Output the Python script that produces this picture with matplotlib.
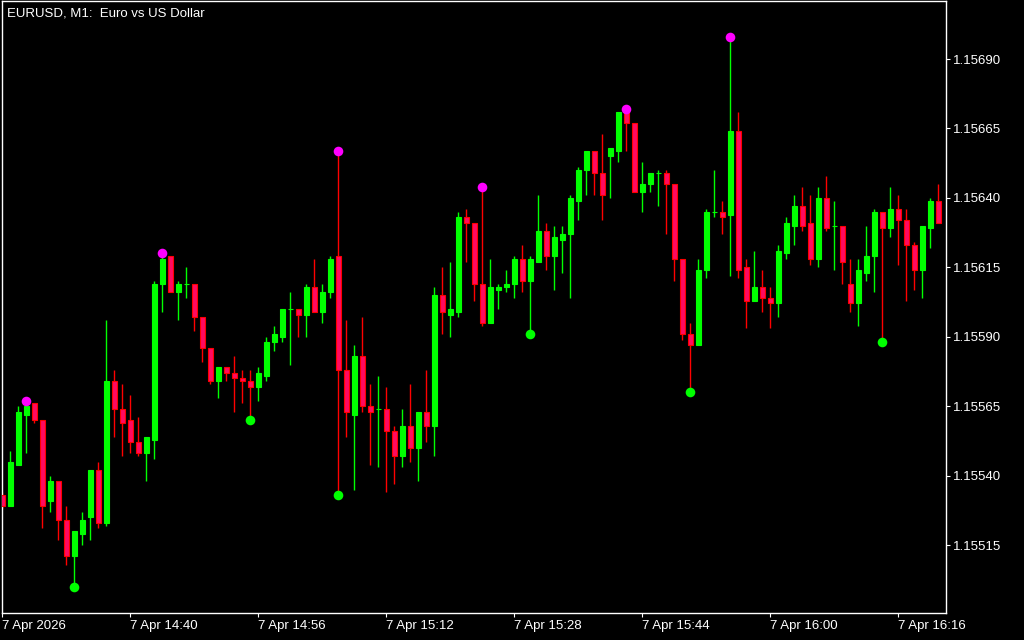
import numpy as np
import pandas as pd
import matplotlib
matplotlib.use("Agg")
import matplotlib.pyplot as plt
from matplotlib.ticker import FormatStrFormatter

title = "EURUSD, M1:  Euro vs US Dollar"
start_time = "2026-04-07 14:24"

opens = [1.15533, 1.15529, 1.15544, 1.15562, 1.15566, 1.15560, 1.15531, 1.15538, 1.15524, 1.15511,
         1.15519, 1.15525, 1.15542, 1.15523, 1.15574, 1.15564, 1.15560, 1.15552, 1.15548, 1.15553,
         1.15609, 1.15619, 1.15606, 1.15609, 1.15609, 1.15597, 1.15586, 1.15574, 1.15579, 1.15577,
         1.15575, 1.15574, 1.15572, 1.15576, 1.15588, 1.15590, 1.15600, 1.15600, 1.15598, 1.15608,
         1.15599, 1.15606, 1.15619, 1.15578, 1.15562, 1.15583, 1.15565, 1.15564, 1.15564, 1.15556,
         1.15547, 1.15558, 1.15550, 1.15563, 1.15558, 1.15605, 1.15598, 1.15599, 1.15633, 1.15631,
         1.15609, 1.15595, 1.15607, 1.15608, 1.15609, 1.15618, 1.15610, 1.15617, 1.15628, 1.15619,
         1.15625, 1.15627, 1.15639, 1.15650, 1.15657, 1.15649, 1.15655, 1.15657, 1.15671, 1.15667,
         1.15642, 1.15645, 1.15649, 1.15649, 1.15645, 1.15618, 1.15591, 1.15587, 1.15614, 1.15635,
         1.15635, 1.15634, 1.15664, 1.15615, 1.15603, 1.15608, 1.15604, 1.15602, 1.15620, 1.15630,
         1.15637, 1.15631, 1.15618, 1.15640, 1.15630, 1.15630, 1.15609, 1.15602, 1.15613, 1.15619,
         1.15635, 1.15629, 1.15636, 1.15632, 1.15623, 1.15614, 1.15629, 1.15639]
highs = [1.15534, 1.15549, 1.15565, 1.15567, 1.15566, 1.15560, 1.15540, 1.15538, 1.15529, 1.15520,
         1.15527, 1.15542, 1.15545, 1.15596, 1.15578, 1.15573, 1.15569, 1.15561, 1.15554, 1.15610,
         1.15620, 1.15619, 1.15610, 1.15615, 1.15609, 1.15597, 1.15586, 1.15579, 1.15579, 1.15583,
         1.15578, 1.15578, 1.15579, 1.15590, 1.15594, 1.15600, 1.15606, 1.15600, 1.15609, 1.15618,
         1.15609, 1.15619, 1.15657, 1.15596, 1.15587, 1.15597, 1.15573, 1.15576, 1.15572, 1.15558,
         1.15564, 1.15573, 1.15563, 1.15578, 1.15608, 1.15615, 1.15617, 1.15635, 1.15636, 1.15631,
         1.15644, 1.15618, 1.15609, 1.15614, 1.15619, 1.15623, 1.15619, 1.15641, 1.15631, 1.15630,
         1.15630, 1.15641, 1.15651, 1.15657, 1.15657, 1.15663, 1.15658, 1.15671, 1.15672, 1.15667,
         1.15653, 1.15649, 1.15650, 1.15650, 1.15645, 1.15618, 1.15595, 1.15618, 1.15636, 1.15650,
         1.15639, 1.15698, 1.15671, 1.15618, 1.15621, 1.15614, 1.15608, 1.15623, 1.15633, 1.15641,
         1.15644, 1.15641, 1.15644, 1.15648, 1.15639, 1.15630, 1.15618, 1.15618, 1.15630, 1.15636,
         1.15635, 1.15644, 1.15641, 1.15636, 1.15624, 1.15630, 1.15640, 1.15645]
lows = [1.15528, 1.15529, 1.15544, 1.15548, 1.15559, 1.15521, 1.15527, 1.15517, 1.15508, 1.15500,
        1.15515, 1.15517, 1.15521, 1.15522, 1.15554, 1.15547, 1.15548, 1.15547, 1.15538, 1.15546,
        1.15599, 1.15606, 1.15596, 1.15604, 1.15592, 1.15581, 1.15573, 1.15568, 1.15574, 1.15563,
        1.15566, 1.15560, 1.15567, 1.15574, 1.15585, 1.15588, 1.15580, 1.15590, 1.15590, 1.15599,
        1.15595, 1.15604, 1.15533, 1.15554, 1.15535, 1.15563, 1.15544, 1.15543, 1.15534, 1.15537,
        1.15543, 1.15545, 1.15538, 1.15552, 1.15547, 1.15591, 1.15590, 1.15597, 1.15617, 1.15603,
        1.15594, 1.15595, 1.15600, 1.15606, 1.15604, 1.15606, 1.15591, 1.15617, 1.15614, 1.15607,
        1.15613, 1.15604, 1.15632, 1.15641, 1.15641, 1.15632, 1.15640, 1.15653, 1.15657, 1.15642,
        1.15635, 1.15642, 1.15637, 1.15627, 1.15610, 1.15589, 1.15570, 1.15587, 1.15611, 1.15633,
        1.15627, 1.15612, 1.15611, 1.15593, 1.15603, 1.15599, 1.15593, 1.15597, 1.15618, 1.15623,
        1.15628, 1.15616, 1.15615, 1.15628, 1.15614, 1.15609, 1.15599, 1.15594, 1.15610, 1.15606,
        1.15588, 1.15626, 1.15616, 1.15603, 1.15607, 1.15604, 1.15622, 1.15631]
closes = [1.15529, 1.15545, 1.15563, 1.15565, 1.15560, 1.15529, 1.15538, 1.15524, 1.15511, 1.15520,
          1.15524, 1.15542, 1.15523, 1.15574, 1.15564, 1.15559, 1.15552, 1.15548, 1.15554, 1.15609,
          1.15618, 1.15606, 1.15609, 1.15609, 1.15597, 1.15586, 1.15574, 1.15579, 1.15577, 1.15575,
          1.15574, 1.15572, 1.15577, 1.15588, 1.15591, 1.15600, 1.15600, 1.15598, 1.15608, 1.15599,
          1.15606, 1.15618, 1.15578, 1.15563, 1.15583, 1.15565, 1.15563, 1.15564, 1.15556, 1.15547,
          1.15558, 1.15550, 1.15563, 1.15558, 1.15605, 1.15599, 1.15600, 1.15633, 1.15631, 1.15609,
          1.15595, 1.15608, 1.15608, 1.15609, 1.15618, 1.15610, 1.15618, 1.15628, 1.15619, 1.15626,
          1.15627, 1.15640, 1.15650, 1.15657, 1.15649, 1.15641, 1.15658, 1.15671, 1.15667, 1.15642,
          1.15645, 1.15649, 1.15649, 1.15645, 1.15618, 1.15591, 1.15587, 1.15614, 1.15635, 1.15635,
          1.15633, 1.15664, 1.15614, 1.15603, 1.15608, 1.15604, 1.15602, 1.15621, 1.15631, 1.15637,
          1.15630, 1.15618, 1.15640, 1.15629, 1.15630, 1.15617, 1.15602, 1.15614, 1.15619, 1.15635,
          1.15629, 1.15636, 1.15632, 1.15623, 1.15614, 1.15630, 1.15639, 1.15631]

fractal_up = [3, 20, 42, 60, 78, 91]
fractal_down = [9, 31, 42, 66, 86, 110]
price_ticks = [1.15515, 1.15540, 1.15565, 1.15590, 1.15615, 1.15640, 1.15665, 1.15690]
label_every = 16

bull_col = "#00ff00"
bear_edge = "#ff0000"
bear_fill = "#ff0a60"
font = "Liberation Sans"

times = pd.date_range(start_time, periods=len(opens), freq="min")
x = np.arange(len(opens))
o, h, l, c = (np.array(v) for v in (opens, highs, lows, closes))
up = c >= o

fig = plt.figure(figsize=(10.24, 6.4), dpi=100, facecolor="black")
ax = fig.add_axes([2/1024, 27/640, 944/1024, 612/640])
ax.set_facecolor("black")

ax.vlines(x[up], l[up], h[up], color=bull_col, lw=1.0, zorder=2)
ax.vlines(x[~up], l[~up], h[~up], color=bear_edge, lw=1.0, zorder=2)
ax.bar(x[up], c[up] - o[up], bottom=o[up], width=0.55, color=bull_col,
       edgecolor=bull_col, lw=0.8, zorder=3)
ax.bar(x[~up], c[~up] - o[~up], bottom=o[~up], width=0.55, color=bear_fill,
       edgecolor=bear_edge, lw=0.8, zorder=3)
ax.scatter(x[fractal_up], h[fractal_up], s=48, color="#ff00ff", lw=0, zorder=5)
ax.scatter(x[fractal_down], l[fractal_down], s=48, color="#00ff00", lw=0, zorder=5)

ax.set_xlim(-0.04, 117.96)
ax.set_ylim(1.1549056, 1.1571088)

ax.yaxis.tick_right()
ax.set_yticks(price_ticks)
ax.yaxis.set_major_formatter(FormatStrFormatter("%.5f"))

tick_pos = [i for i in x if i % label_every == 0]
tick_lab = []
for i in tick_pos:
    t = times[i]
    if i == 0:
        tick_lab.append(f"{t.day} {t:%b %Y}")
    else:
        tick_lab.append(f"{t.day} {t:%b %H:%M}")
ax.set_xticks(tick_pos)
ax.set_xticklabels(tick_lab, ha="left")

ax.tick_params(axis="both", colors="white", labelcolor="white", length=3, width=0.8,
               labelsize=9.5)
ax.tick_params(axis="y", pad=2)
ax.tick_params(axis="x", pad=2)
for lab in ax.get_xticklabels() + ax.get_yticklabels():
    lab.set_family(font)
for sp in ax.spines.values():
    sp.set_color("white")
    sp.set_linewidth(1.0)

fig.text(7/1024, 1 - 13/640, title, color="white", fontsize=9.5, family=font,
         va="center", ha="left")

fig.savefig("out.png", dpi=100, facecolor="black")
